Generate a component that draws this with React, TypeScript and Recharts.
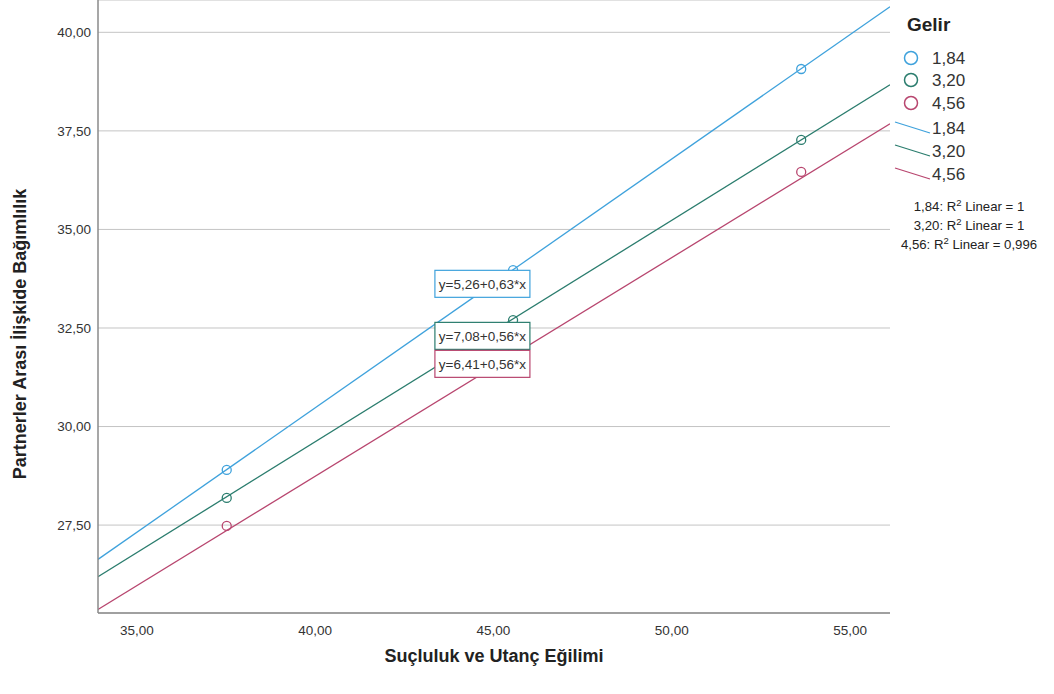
import React from 'react';
import { ComposedChart, XAxis, YAxis, CartesianGrid, Scatter, Line, ReferenceDot } from 'recharts';

const GROUPS = ['1,84', '3,20', '4,56'];
const COLORS = ['#3fa2dc', '#2b7d6e', '#b8466f'];
const X_VALUES = [37.52, 45.55, 53.63];
const Y_184 = [28.9, 33.97, 39.07];
const Y_320 = [28.19, 32.7, 37.27];
const Y_456 = [27.48, 31.94, 36.46];
// fitted line values read at the left and right edges of the x range
const FIT_LEFT = [26.63, 26.19, 25.36];
const FIT_RIGHT = [40.65, 38.67, 37.68];
const EQUATIONS = ['y=5,26+0,63*x', 'y=7,08+0,56*x', 'y=6,41+0,56*x'];
const R2_VALUES = ['1', '1', '0,996'];
const X_TICKS = [35, 40, 45, 50, 55];
const Y_TICKS = [27.5, 30, 32.5, 35, 37.5, 40];
const X_DOMAIN: [number, number] = [33.91, 56.12];
const Y_DOMAIN: [number, number] = [25.27, 40.82];
const EQ_X = 44.69;
const EQ_Y = [33.62, 32.3, 31.59];

const SERIES_Y = [Y_184, Y_320, Y_456];
const pointData = SERIES_Y.map((ys) => X_VALUES.map((x, i) => ({ x, y: ys[i] })));
const fitData = FIT_LEFT.map((l, i) => [
  { x: X_DOMAIN[0], y: l },
  { x: X_DOMAIN[1], y: FIT_RIGHT[i] },
]);

const FONT = '"Liberation Sans", Arial, sans-serif';
const fmt = (v: number) => v.toFixed(2).replace('.', ',');

const makeCircle = (color: string) => (props: any) => (
  <circle cx={props.cx} cy={props.cy} r={4.5} fill="none" stroke={color} strokeWidth={1.3} />
);

const makeEqBox = (text: string, color: string) => (props: any) => (
  <g>
    <rect x={props.cx - 47.5} y={props.cy - 13.5} width={95} height={27} fill="#fff" stroke={color} strokeWidth={1.2} />
    <text x={props.cx} y={props.cy + 5} textAnchor="middle" fontSize={13.5} fill="#333" fontFamily={FONT}>
      {text}
    </text>
  </g>
);

function LegendBox() {
  const circleY = [58, 80, 103];
  const lineY = [128, 151, 174];
  const r2Y = [207, 226, 245];
  return (
    <svg width={164} height={260} style={{ position: 'absolute', left: 890, top: 0 }} fontFamily={FONT}>
      <text x={17} y={31} fontSize={19} fontWeight="bold" fill="#222">Gelir</text>
      {GROUPS.map((g, i) => (
        <g key={'c' + i}>
          <circle cx={21} cy={circleY[i]} r={6.5} fill="none" stroke={COLORS[i]} strokeWidth={1.5} />
          <text x={42} y={circleY[i] + 6} fontSize={17} fill="#333">{g}</text>
        </g>
      ))}
      {GROUPS.map((g, i) => (
        <g key={'l' + i}>
          <line x1={5} y1={lineY[i] - 6} x2={40} y2={lineY[i] + 5} stroke={COLORS[i]} strokeWidth={1.3} />
          <text x={42} y={lineY[i] + 6} fontSize={17} fill="#333">{g}</text>
        </g>
      ))}
      {GROUPS.map((g, i) => (
        <text key={'r' + i} x={79} y={r2Y[i] + 4} fontSize={13.2} fill="#222" textAnchor="middle">
          {g}: R<tspan fontSize={9.5} dy={-5}>2</tspan><tspan dy={5}> Linear = {R2_VALUES[i]}</tspan>
        </text>
      ))}
    </svg>
  );
}

export default function App() {
  return (
    <div style={{ position: 'relative', width: 1054, height: 694 }}>
      <style>{`body{margin:0}`}</style>
      <ComposedChart width={1054} height={694} margin={{ top: 0, right: 164, bottom: 0, left: 0 }}>
        <CartesianGrid vertical={false} stroke="#c4c4c4" strokeWidth={1} />
        <XAxis
          type="number"
          dataKey="x"
          domain={X_DOMAIN}
          ticks={X_TICKS}
          allowDataOverflow
          height={81}
          tickSize={0}
          tickMargin={12}
          tickFormatter={fmt}
          tick={{ fill: '#333', fontSize: 13.5, fontFamily: FONT }}
          axisLine={{ stroke: '#8a8a8a', strokeWidth: 1.5 }}
          label={{
            content: (p: any) => (
              <text x={p.viewBox.x + p.viewBox.width / 2} y={662} textAnchor="middle" fontSize={18} fontWeight="bold" fill="#222" fontFamily={FONT}>
                Suçluluk ve Utanç Eğilimi
              </text>
            ),
          }}
        />
        <YAxis
          type="number"
          dataKey="y"
          domain={Y_DOMAIN}
          ticks={Y_TICKS}
          allowDataOverflow
          width={98}
          tickSize={0}
          tickMargin={7}
          tickFormatter={fmt}
          tick={{ fill: '#333', fontSize: 13.5, fontFamily: FONT }}
          axisLine={{ stroke: '#8a8a8a', strokeWidth: 1.5 }}
          label={{
            content: () => (
              <text x={26} y={334} transform="rotate(-90 26 334)" textAnchor="middle" fontSize={18} fontWeight="bold" fill="#222" fontFamily={FONT}>
                Partnerler Arası İlişkide Bağımlılık
              </text>
            ),
          }}
        />
        {fitData.map((d, i) => (
          <Line key={'f' + i} data={d} dataKey="y" stroke={COLORS[i]} strokeWidth={1.3} dot={false} activeDot={false} isAnimationActive={false} />
        ))}
        {pointData.map((d, i) => (
          <Scatter key={'s' + i} data={d} dataKey="y" shape={makeCircle(COLORS[i])} isAnimationActive={false} />
        ))}
        {EQUATIONS.map((eq, i) => (
          <ReferenceDot key={'e' + i} x={EQ_X} y={EQ_Y[i]} r={0} shape={makeEqBox(eq, COLORS[i])} />
        ))}
      </ComposedChart>
      <LegendBox />
    </div>
  );
}
